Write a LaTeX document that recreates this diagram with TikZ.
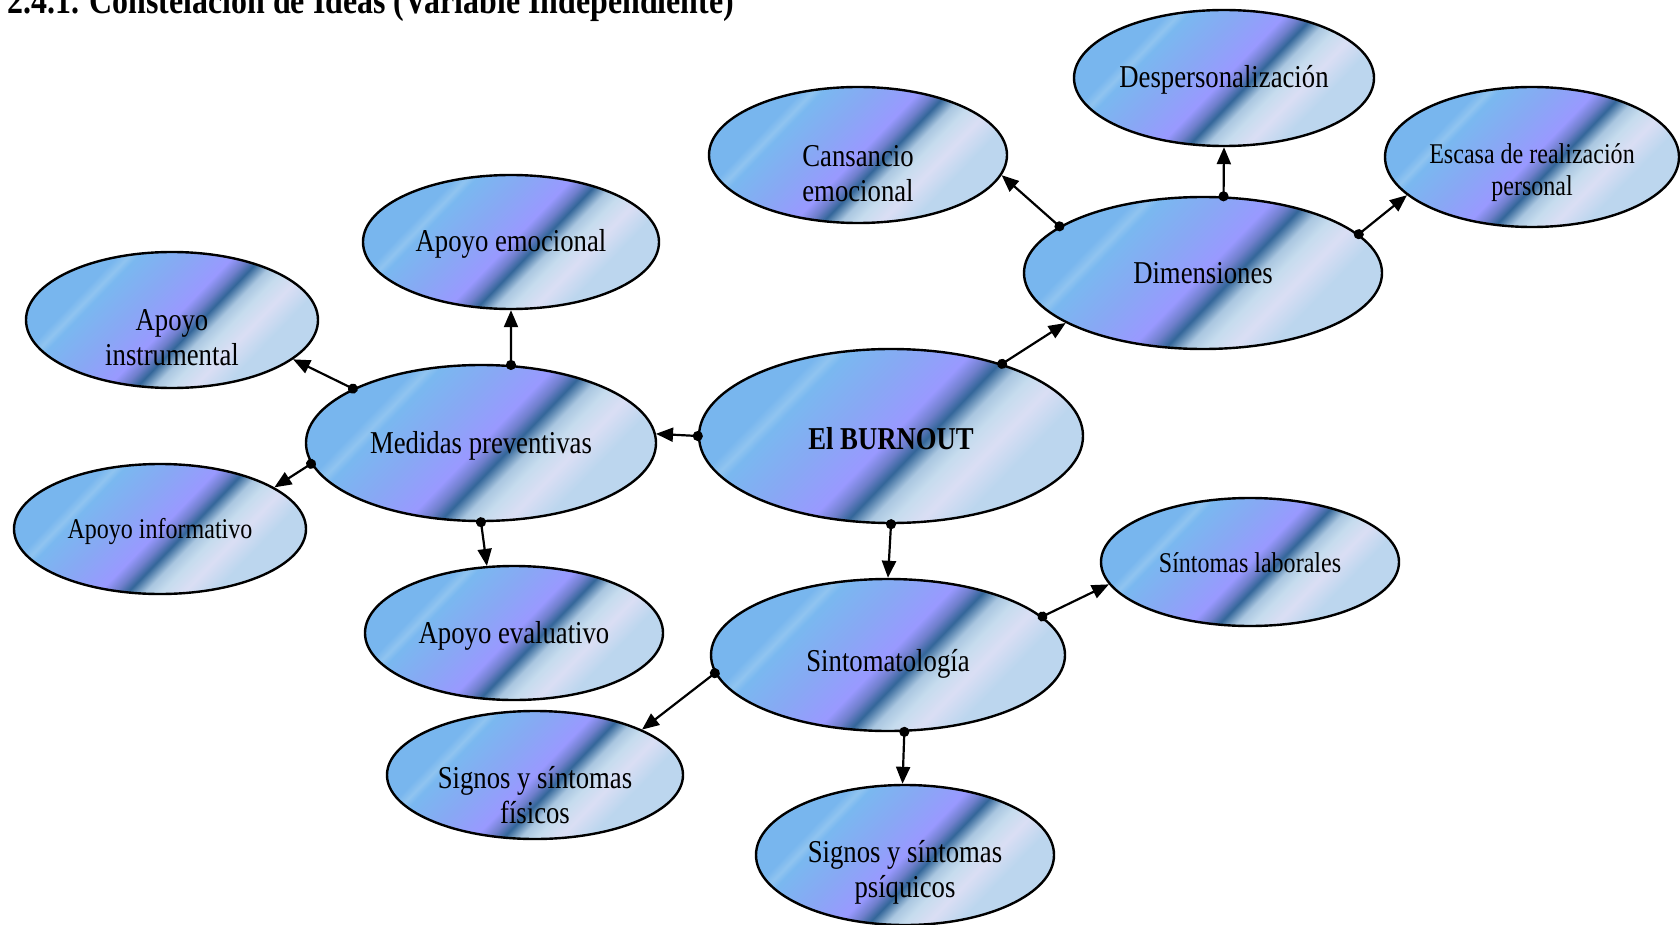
\documentclass[tikz,border=0pt]{standalone}
\usepackage{fontspec}
\setmainfont{Liberation Serif}[FakeStretch=0.84]
\usetikzlibrary{arrows.meta,shapes.geometric}
\definecolor{gA}{HTML}{78B6EE}
\definecolor{gB}{HTML}{90C4F0}
\definecolor{gC}{HTML}{7AB8F0}
\definecolor{gD}{HTML}{88A8F4}
\definecolor{gE}{HTML}{9999FF}
\definecolor{gF}{HTML}{6F7FCC}
\definecolor{gG}{HTML}{336699}
\definecolor{gH}{HTML}{A9C6E0}
\definecolor{gI}{HTML}{C6DCEE}
\definecolor{gJ}{HTML}{DADEF4}
\definecolor{gK}{HTML}{BCD6EE}
\pgfdeclarehorizontalshading{burnshade}{100bp}{
 color(0bp)=(gA); color(30.4bp)=(gA); color(32.4bp)=(gB); color(33.9bp)=(gC);
 color(42.2bp)=(gD); color(50bp)=(gE); color(52.7bp)=(gF); color(54.9bp)=(gG);
 color(57.8bp)=(gH); color(60.6bp)=(gI); color(64.5bp)=(gJ); color(69.6bp)=(gK);
 color(100bp)=(gK)}
\newcommand{\lowtext}[2]{\raisebox{-#1}[\height][\depth]{\begin{tabular}{@{}c@{}}#2\end{tabular}}}
\tikzset{
 bub/.style={ellipse, draw=black, line width=2.4pt, shade, shading=burnshade,
   shading angle=-44, inner sep=0pt, align=center, font=\fontsize{31.8}{35}\selectfont},
 small/.style={font=\fontsize{28.6}{32}\selectfont},
 conn/.style={line width=2.2pt, {Circle[length=10pt]}-{Triangle[length=17pt,width=14pt]}, shorten <=-5pt}
}
\begin{document}
\begin{tikzpicture}[x=1pt,y=-1pt]
\useasboundingbox (0,0) rectangle (1680,925);
\node[anchor=base west, inner sep=0pt, font=\bfseries\fontsize{38}{42}\selectfont] (title) at (7,14) {2.4.1. Constelación de Ideas (Variable Independiente)};

\node[bub, minimum width=384pt, minimum height=174pt] (burn) at (891,436) {\lowtext{6pt}{\textbf{El BURNOUT}}};
\node[bub, minimum width=350pt, minimum height=156pt] (med) at (481,443) {\lowtext{3pt}{Medidas preventivas}};
\node[bub, minimum width=358pt, minimum height=152pt] (dim) at (1203,273) {\lowtext{4pt}{Dimensiones}};
\node[bub, minimum width=354pt, minimum height=152pt] (sint) at (888,655) {\lowtext{9pt}{Sintomatología}};

\node[bub, minimum width=300pt, minimum height=136pt] (desp) at (1224,78) {\lowtext{3pt}{Despersonalización}};
\node[bub, minimum width=298pt, minimum height=136pt] (cans) at (858,155) {\lowtext{22pt}{Cansancio\\emocional}};
\node[bub, small, minimum width=294pt, minimum height=140pt] (esc) at (1532,157) {\lowtext{16pt}{Escasa de realización\\personal}};

\node[bub, minimum width=296pt, minimum height=134pt] (emo) at (511,242) {\lowtext{3pt}{Apoyo emocional}};
\node[bub, minimum width=292pt, minimum height=136pt] (inst) at (172,320) {\lowtext{21pt}{Apoyo\\instrumental}};
\node[bub, small, minimum width=292pt, minimum height=130pt] (info) at (160,529) {\lowtext{3pt}{Apoyo informativo}};
\node[bub, minimum width=298pt, minimum height=134pt] (eval) at (514,633) {\lowtext{3pt}{Apoyo evaluativo}};

\node[bub, small, minimum width=298pt, minimum height=128pt] (lab) at (1250,562) {\lowtext{4pt}{Síntomas laborales}};
\node[bub, minimum width=296pt, minimum height=128pt] (fis) at (535,775) {\lowtext{24pt}{Signos y síntomas\\físicos}};
\node[bub, minimum width=298pt, minimum height=140pt] (psi) at (905,855) {\lowtext{18pt}{\fontsize{31.8}{32}\selectfont Signos y síntomas\\psíquicos}};

\draw[conn] (burn.180) -- (med.3);
\draw[conn] (burn.33) -- (dim.200);
\draw[conn] (burn.270) -- (sint.90);
\draw[conn] (dim.162) -- (cans.-8);
\draw[conn] (dim.75) -- (desp.270);
\draw[conn] (dim.14) -- (esc.197);
\draw[conn] (med.69) -- (emo.270);
\draw[conn] (med.157) -- (inst.-18);
\draw[conn] (med.187) -- (info.20);
\draw[conn] (med.270) -- (eval.112);
\draw[conn] (sint.14) -- (lab.189);
\draw[conn] (sint.186) -- (fis.23);
\draw[conn] (sint.282) -- (psi.92);
\end{tikzpicture}
\end{document}
